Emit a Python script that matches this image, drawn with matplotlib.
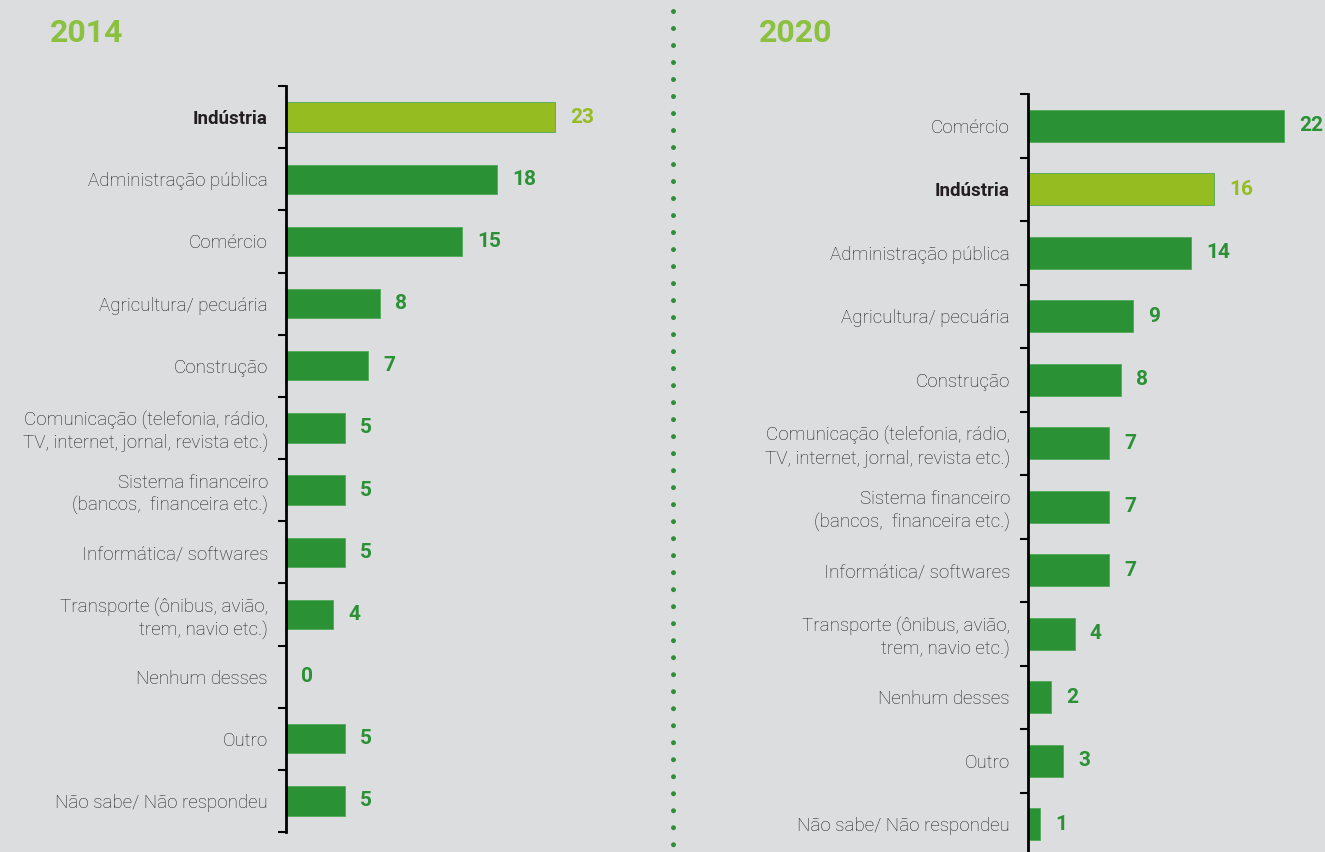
"""
Setores de atuação - comparação 2014 x 2020.
"""
import matplotlib
matplotlib.use('Agg')
import matplotlib.pyplot as plt
from matplotlib import font_manager
from matplotlib.lines import Line2D

# Dados 2014
cats_2014 = ['Indústria', 'Administração pública', 'Comércio', 'Agricultura/ pecuária',
             'Construção', 'Comunicação (telefonia, rádio,\nTV, internet, jornal, revista etc.)',
             'Sistema financeiro\n(bancos,  financeira etc.)', 'Informática/ softwares',
             'Transporte (ônibus, avião,\ntrem, navio etc.)', 'Nenhum desses', 'Outro',
             'Não sabe/ Não respondeu']
vals_2014 = [23, 18, 15, 8, 7, 5, 5, 5, 4, 0, 5, 5]

# Dados 2020
cats_2020 = ['Comércio', 'Indústria', 'Administração pública', 'Agricultura/ pecuária',
             'Construção', 'Comunicação (telefonia, rádio,\nTV, internet, jornal, revista etc.)',
             'Sistema financeiro\n(bancos,  financeira etc.)', 'Informática/ softwares',
             'Transporte (ônibus, avião,\ntrem, navio etc.)', 'Nenhum desses', 'Outro',
             'Não sabe/ Não respondeu']
vals_2020 = [22, 16, 14, 9, 8, 7, 7, 7, 4, 2, 3, 1]

highlight = 'Indústria'

BG = '#dcdddf'
DARK = '#2a9135'
LIGHT = '#95bd21'
TITLE = '#8cc03f'
TXT = '#1f1f21'

installed = {f.name for f in font_manager.fontManager.ttflist}
if 'Liberation Sans Narrow' in installed:
    FONT, LBL, VAL, TTL = 'Liberation Sans Narrow', 15, 15, 24
else:
    FONT, LBL, VAL, TTL = 'Roboto', 13.5, 15, 23
plt.rcParams['font.family'] = [FONT, 'DejaVu Sans']

fig = plt.figure(figsize=(13.25, 8.52), dpi=100, facecolor=BG)
W, H = 1325, 852


def panel(rect, cats, vals, xmax, bar_h):
    ax = fig.add_axes(rect)
    ax.set_facecolor('none')
    n = len(cats)
    ys = list(range(n))
    colors = [LIGHT if c == highlight else DARK for c in cats]
    ax.barh(ys, vals, height=bar_h, color=colors, edgecolor='#4fa957', linewidth=0.6)
    ax.set_xlim(0, xmax)
    ax.set_ylim(n - 0.5, -0.5)
    for y, v, c in zip(ys, vals, colors):
        ax.annotate(str(v), xy=(v, y), xytext=(11, 0), textcoords='offset points',
                    ha='left', va='center', fontsize=VAL, fontweight='bold',
                    color=c, clip_on=False, annotation_clip=False)
    ax.set_yticks(ys)
    ax.set_yticklabels(cats, fontsize=LBL, color=TXT, linespacing=1.3, fontweight='light')
    for lbl, c in zip(ax.get_yticklabels(), cats):
        if c == highlight:
            lbl.set_fontweight('bold')
            lbl.set_color('#231f20')
    ax.tick_params(axis='y', which='major', length=0, pad=13)
    ax.set_yticks([i - 0.5 for i in range(n + 1)], minor=True)
    ax.tick_params(axis='y', which='minor', length=6, width=1.5, color='black')
    ax.set_xticks([])
    for s in ['top', 'right', 'bottom']:
        ax.spines[s].set_visible(False)
    ax.spines['left'].set_linewidth(2)
    ax.spines['left'].set_color('black')
    return ax


# 2014
panel([286 / W, 1 - 832 / H, 374 / W, (832 - 86) / H], cats_2014, vals_2014, 374 / 11.7, 0.47)
# 2020
panel([1028 / W, 1 - 856 / H, 297 / W, (856 - 94) / H], cats_2020, vals_2020, 297 / 11.64, 0.5)

fig.text(50 / W, 1 - 33 / H, '2014', fontsize=TTL, fontweight='bold', color=TITLE,
         ha='left', va='center')
fig.text(759 / W, 1 - 33 / H, '2020', fontsize=TTL, fontweight='bold', color=TITLE,
         ha='left', va='center')

# divisor pontilhado
fig.add_artist(Line2D([673 / W, 673 / W], [1 - 11 / H, 0], transform=fig.transFigure,
                      color=DARK, linewidth=3.6, linestyle=(0, (0.001, 3.4)),
                      dash_capstyle='round'))

plt.savefig('out.png', dpi=100, facecolor=BG)
